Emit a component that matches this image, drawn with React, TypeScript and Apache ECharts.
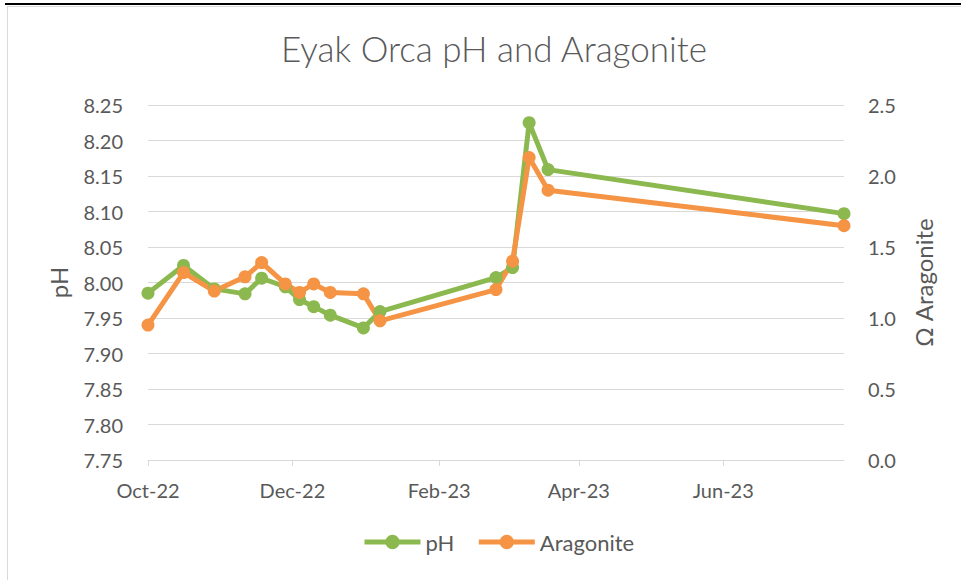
import React, { useEffect, useRef } from "react";
import * as echarts from "echarts";

const sampleDates = [
  "2022-10-01", "2022-10-16", "2022-10-29", "2022-11-11", "2022-11-18", "2022-11-28",
  "2022-12-04", "2022-12-10", "2022-12-17", "2022-12-31", "2023-01-07", "2023-02-25",
  "2023-03-04", "2023-03-11", "2023-03-19", "2023-07-22",
];
const phValues = [
  7.985, 8.024, 7.991, 7.984, 8.006, 7.994, 7.976, 7.966, 7.954, 7.936, 7.959, 8.007,
  8.021, 8.225, 8.159, 8.097,
];
const aragoniteValues = [
  0.95, 1.32, 1.19, 1.29, 1.39, 1.24, 1.18, 1.24, 1.18, 1.17, 0.98, 1.2, 1.4, 2.13, 1.9, 1.65,
];
const xTickDates = ["2022-10-01", "2022-12-01", "2023-02-01", "2023-04-01", "2023-06-01"];
const monthNames = ["Jan", "Feb", "Mar", "Apr", "May", "Jun", "Jul", "Aug", "Sep", "Oct", "Nov", "Dec"];

const toTs = (s: string) => {
  const [y, m, d] = s.split("-").map(Number);
  return Date.UTC(y, m - 1, d);
};

const FONT = "Lato";
const TEXT = "#595959";
const GREEN = "#8cb94f";
const ORANGE = "#f59444";

export default function App() {
  const ref = useRef<HTMLDivElement>(null);
  useEffect(() => {
    document.body.style.margin = "0";
    const chart = echarts.init(ref.current!, null, { renderer: "svg" });
    const xs = sampleDates.map(toTs);
    const ticks = xTickDates.map(toTs);
    chart.setOption({
      animation: false,
      backgroundColor: "#ffffff",
      textStyle: { fontFamily: FONT },
      graphic: [
        { type: "rect", shape: { x: 5, y: 3, width: 960, height: 2 }, style: { fill: "#000" } },
        { type: "line", shape: { x1: 8, y1: 6.5, x2: 961, y2: 6.5 }, style: { stroke: "#d9d9d9", lineWidth: 1 } },
        { type: "line", shape: { x1: 7.5, y1: 6, x2: 7.5, y2: 580 }, style: { stroke: "#d9d9d9", lineWidth: 1 } },
      ],
      title: {
        text: "Eyak Orca pH and Aragonite",
        left: 489,
        top: 25,
        textAlign: "center",
        textStyle: { fontFamily: FONT, fontSize: 35, fontWeight: 300, color: TEXT },
      },
      legend: {
        data: ["pH", "Aragonite"],
        top: 526,
        left: 357,
        itemWidth: 56,
        itemHeight: 18,
        itemGap: 22,
        lineStyle: { width: 5 },
        textStyle: { fontFamily: FONT, fontSize: 22, color: TEXT },
      },
      grid: { left: 148, right: 117, top: 105, bottom: 120 },
      xAxis: {
        type: "value",
        min: xs[0],
        max: xs[xs.length - 1],
        axisLine: { lineStyle: { color: "#d9d9d9", width: 1 } },
        axisTick: { show: true, length: 6, customValues: ticks, lineStyle: { color: "#d9d9d9" } },
        splitLine: { show: false },
        axisLabel: {
          customValues: ticks,
          margin: 20,
          fontFamily: FONT,
          fontSize: 20,
          color: TEXT,
          formatter: (v: number) => {
            const d = new Date(v);
            return monthNames[d.getUTCMonth()] + "-" + String(d.getUTCFullYear()).slice(2);
          },
        },
      },
      yAxis: [
        {
          type: "value",
          min: 7.75,
          max: 8.25,
          interval: 0.05,
          name: "pH",
          nameLocation: "middle",
          nameGap: 78,
          nameTextStyle: { fontFamily: FONT, fontSize: 24, color: TEXT },
          axisLine: { show: false },
          axisTick: { show: false },
          splitLine: { lineStyle: { color: "#d9d9d9", width: 1 } },
          axisLabel: {
            margin: 25,
            fontFamily: FONT,
            fontSize: 20,
            color: TEXT,
            formatter: (v: number) => v.toFixed(2),
          },
        },
        {
          type: "value",
          min: 0,
          max: 2.5,
          interval: 0.5,
          name: "Ω Aragonite",
          nameLocation: "middle",
          nameGap: 67,
          nameTextStyle: { fontFamily: FONT, fontSize: 24, color: TEXT },
          axisLine: { show: false },
          axisTick: { show: false },
          splitLine: { show: false },
          axisLabel: {
            margin: 24,
            fontFamily: FONT,
            fontSize: 20,
            color: TEXT,
            formatter: (v: number) => v.toFixed(1),
          },
        },
      ],
      series: [
        {
          name: "pH",
          type: "line",
          yAxisIndex: 0,
          data: xs.map((x, i) => [x, phValues[i]]),
          symbol: "circle",
          symbolSize: 13,
          showAllSymbol: true,
          lineStyle: { color: GREEN, width: 5 },
          itemStyle: { color: GREEN },
        },
        {
          name: "Aragonite",
          type: "line",
          yAxisIndex: 1,
          data: xs.map((x, i) => [x, aragoniteValues[i]]),
          symbol: "circle",
          symbolSize: 13,
          showAllSymbol: true,
          lineStyle: { color: ORANGE, width: 5 },
          itemStyle: { color: ORANGE },
        },
      ],
    });
    return () => chart.dispose();
  }, []);
  return <div ref={ref} style={{ position: "absolute", left: 0, top: 0, width: 961, height: 580 }} />;
}
